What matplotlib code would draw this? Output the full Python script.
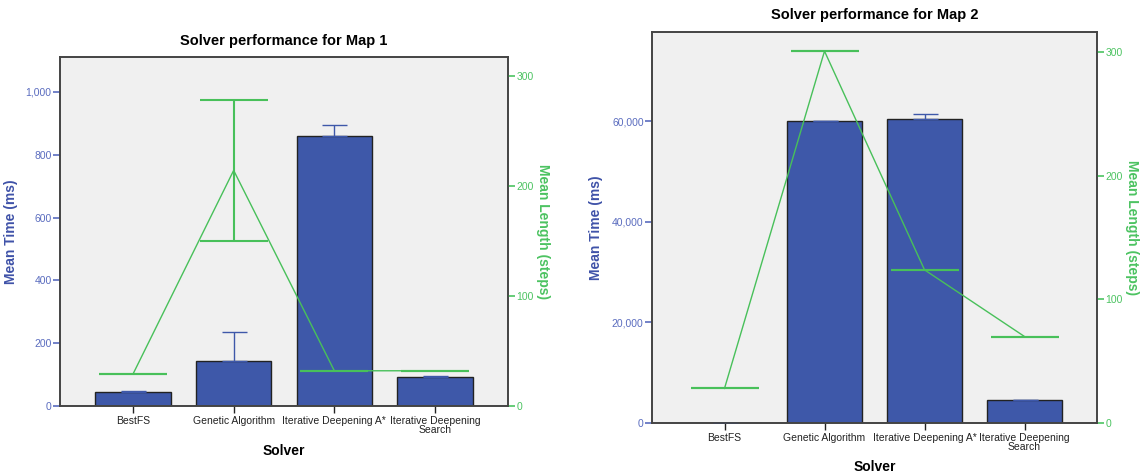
import matplotlib
matplotlib.use("Agg")
import matplotlib.pyplot as plt
from matplotlib.ticker import FuncFormatter, FixedLocator

plt.rcParams['font.family'] = ['Liberation Sans', 'DejaVu Sans']

solvers = ["BestFS", "Genetic Algorithm", "Iterative Deepening A*", "Iterative Deepening\nSearch"]

map1_time = [45, 144, 860, 93]
map1_time_err = [4, 93, 33, 4]
map1_len = [29, 214, 32, 32]
map1_len_err = [0, 64, 0, 0]

map2_time = [60, 60000, 60500, 4500]
map2_time_err = [0, 0, 880, 150]
map2_len = [28, 301, 124, 70]
map2_len_err = [0, 0, 0, 0]

titles = ["Solver performance for Map 1", "Solver performance for Map 2"]
time_ticks = [[0, 200, 400, 600, 800, 1000], [0, 20000, 40000, 60000]]
len_ticks = [0, 100, 200, 300]

BLUE = "#3e58a9"
BLUE_TXT = "#5a6cbf"
BLUE_LAB = "#3f52a8"
GREEN = "#48c05a"
GREEN_TXT = "#4cc361"
BG = "#f0f0f0"
SPINE = "#444444"

W, H = 1142, 476
fig = plt.figure(figsize=(W / 100, H / 100), dpi=100)

boxes = [(60, 57, 508, 406), (652, 32, 1097, 423)]
tlims = [1111, 77760]
llims = [317, 316.5]
ylab_x = [-0.094, -0.110]
ylab2_x = [1.078, 1.079]
xlab_y = [-0.129, -0.1125]
datasets = [(map1_time, map1_time_err, map1_len, map1_len_err),
            (map2_time, map2_time_err, map2_len, map2_len_err)]

for i in range(2):
    l, t, r, b = boxes[i]
    ax = fig.add_axes([l / W, (H - b) / H, (r - l) / W, (b - t) / H])
    ax.set_facecolor(BG)
    tv, te, lv, le = datasets[i]
    x = list(range(len(solvers)))
    ax.bar(x, tv, width=0.75, color=BLUE, edgecolor="#222222", linewidth=1, zorder=2)
    ax.errorbar(x, tv, yerr=[[0] * 4, te], fmt="none", ecolor=BLUE, elinewidth=1,
                capsize=9, capthick=1, zorder=3)
    ax.set_xlim(-0.725, 3.725)
    ax.set_ylim(0, tlims[i])
    ax.yaxis.set_major_locator(FixedLocator(time_ticks[i]))
    ax.yaxis.set_major_formatter(FuncFormatter(lambda v, p: f"{int(v):,}"))
    ax.set_xticks(x)
    ax.set_xticklabels(solvers, fontsize=7.5, linespacing=0.9)
    ax.tick_params(axis="y", colors=BLUE_TXT, labelsize=7.5, length=5, width=1.2, direction="out", pad=1)
    ax.tick_params(axis="x", colors="#222222", labelsize=7.5, length=5, width=1, direction="out", pad=2)
    for s in ax.spines.values():
        s.set_color(SPINE)
        s.set_linewidth(1.2)
    ax.set_ylabel("Mean Time (ms)", color=BLUE_LAB, fontsize=10, fontweight="bold")
    ax.yaxis.set_label_coords(ylab_x[i], 0.5)
    ax.set_xlabel("Solver", fontsize=10, fontweight="bold", va="center")
    ax.xaxis.set_label_coords(0.5, xlab_y[i])
    ax.set_title(titles[i], fontsize=10.5, fontweight="bold", pad=9)

    ax2 = ax.twinx()
    ax2.set_ylim(0, llims[i])
    ax2.plot(x, lv, color=GREEN, linewidth=1, zorder=4)
    ax2.errorbar(x, lv, yerr=le, fmt="none", ecolor=GREEN, elinewidth=1.5,
                 capsize=24.5, capthick=1.5, zorder=5)
    ax2.yaxis.set_major_locator(FixedLocator(len_ticks))
    ax2.tick_params(axis="y", colors=GREEN_TXT, labelsize=7.5, length=5, width=1.2, direction="out", pad=1)
    for s in ax2.spines.values():
        s.set_color(SPINE)
        s.set_linewidth(1.2)
    ax2.set_ylabel("Mean Length (steps)", color=GREEN_TXT, fontsize=10, fontweight="bold",
                   rotation=270, va="center")
    ax2.yaxis.set_label_coords(ylab2_x[i], 0.5)

fig.savefig("out.png", dpi=100, facecolor="white")
